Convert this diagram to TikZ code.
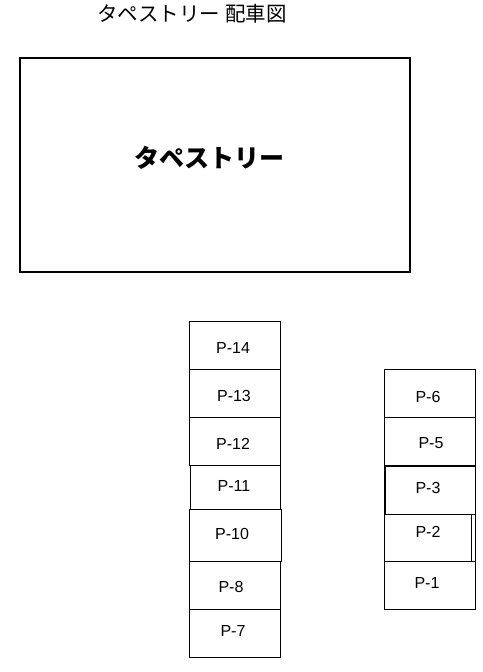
\documentclass[tikz,border=0pt]{standalone}
\usepackage{fontspec}
\setmainfont{Liberation Sans}
\newfontfamily\jpfont{Noto Sans CJK JP}
\tikzset{
	stall/.style={line width=0.8pt},
	stalltext/.style={font=\fontsize{16}{18}\selectfont, inner sep=0pt},
}

\begin{document}
\begin{tikzpicture}[x=1pt, y=-1pt]
		%%%%% START %%%%%
		\useasboundingbox[fill=white] (0, 0) rectangle (482, 672);
		
		\node[font=\jpfont\fontsize{20.5}{22}\selectfont, inner sep=0pt] (title) at (192, 14) {タペストリー 配車図};
		
		\draw[line width=2pt] (20, 57.5) rectangle (409.5, 272);
		\node[font=\jpfont\bfseries\fontsize{25}{27}\selectfont, inner sep=0pt] (shop) at (209, 158) {タペストリー};
		
		%% left row
		\draw[stall] (189.5, 321) rectangle (280, 369);
		\draw[stall] (189.5, 369) rectangle (280, 417);
		\draw[stall] (189.5, 417) rectangle (280, 465);
		\draw[stall] (190.5, 465) rectangle (280, 509);
		\draw[line width=1.8pt] (190.5, 465) -- (190.5, 509);
		\draw[stall] (189.5, 509) rectangle (281.3, 561.5);
		\draw[stall] (189.5, 561.5) rectangle (280, 609);
		\draw[stall] (189.5, 609) rectangle (280, 657.5);
		
		\node[stalltext] (p14) at (233, 348) {P-14};
		\node[stalltext] (p13) at (234, 396) {P-13};
		\node[stalltext] (p12) at (233, 444) {P-12};
		\node[stalltext] (p11) at (234, 485.5) {P-11};
		\node[stalltext] (p10) at (232, 533.5) {P-10};
		\node[stalltext] (p8) at (231, 587) {P-8};
		\node[stalltext] (p7) at (233, 630.5) {P-7};
		
		%% right row
		\draw[stall] (384.5, 369.5) rectangle (475, 417.5);
		\draw[stall] (384.5, 417.5) rectangle (475, 466);
		\draw[stall] (385, 466) rectangle (475, 514.5);
		\draw[line width=1.6pt] (385, 514.5) -- (385, 466) -- (475, 466);
		\draw[stall] (384.5, 514.5) rectangle (475, 561.5);
		\draw[stall] (471, 514.5) -- (471, 561.5);
		\draw[stall] (384.5, 561.5) rectangle (475, 609);
		
		\node[stalltext] (p6) at (428, 397) {P-6};
		\node[stalltext] (p5) at (431, 443.5) {P-5};
		\node[stalltext] (p3) at (428, 488) {P-3};
		\node[stalltext] (p2) at (428, 532) {P-2};
		\node[stalltext] (p1) at (427, 583) {P-1};
		
		%%%%% END %%%%%
	\end{tikzpicture}
\end{document}
